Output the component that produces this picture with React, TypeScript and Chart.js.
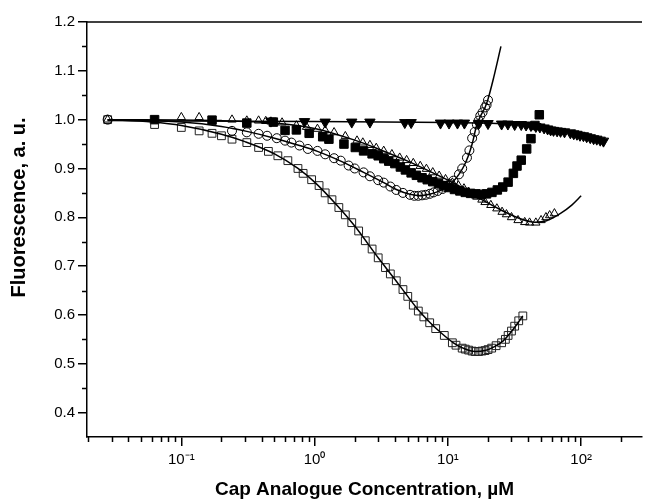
import React, { useEffect, useRef } from 'react';
import { Chart, registerables } from 'chart.js';

Chart.register(...registerables);

const FONT = '"Liberation Sans", Arial, Helvetica, sans-serif';

// Open circles (data + fit)
const circleX = [0.028, 0.24, 0.31, 0.38, 0.44, 0.52, 0.6, 0.67, 0.77, 0.89, 1.05, 1.2, 1.4, 1.57, 1.8, 2.0, 2.33, 2.6, 3.0, 3.3, 3.7, 4.1, 4.6, 5.2, 5.6, 6.0, 6.4, 6.8, 7.3, 7.8, 8.4, 9.1, 9.6, 10.3, 11, 12.1, 12.8, 13.9, 14.5, 15.2, 15.9, 16.5, 17, 17.5, 18.2, 19.0, 19.5, 20];
const circleY = [1.0, 0.977, 0.974, 0.971, 0.967, 0.962, 0.957, 0.953, 0.947, 0.94, 0.936, 0.929, 0.921, 0.916, 0.906, 0.9, 0.892, 0.884, 0.876, 0.871, 0.863, 0.856, 0.85, 0.846, 0.844, 0.844, 0.845, 0.846, 0.848, 0.851, 0.854, 0.858, 0.862, 0.868, 0.875, 0.888, 0.9, 0.922, 0.937, 0.962, 0.975, 0.99, 0.998, 1.008, 1.015, 1.025, 1.03, 1.04];
const circleFitX = [0.028, 0.1, 0.2, 0.31, 0.5, 0.77, 1.05, 1.57, 2.33, 3.3, 4.1, 5.2, 6.2, 7.3, 8.5, 9.6, 11, 12.1, 13.2, 14.2, 15.2, 16.5, 18, 19, 20, 22, 25];
const circleFitY = [1.0, 0.995, 0.986, 0.976, 0.962, 0.947, 0.935, 0.915, 0.892, 0.871, 0.857, 0.847, 0.844, 0.847, 0.853, 0.861, 0.874, 0.888, 0.905, 0.925, 0.95, 0.99, 1.013, 1.025, 1.042, 1.085, 1.15];

// Open squares (data + fit)
const squareX = [0.028, 0.063, 0.1, 0.136, 0.17, 0.2, 0.24, 0.31, 0.38, 0.45, 0.53, 0.63, 0.75, 0.82, 0.95, 1.08, 1.2, 1.35, 1.52, 1.7, 1.9, 2.14, 2.4, 2.7, 3.0, 3.4, 3.7, 4.1, 4.6, 5.0, 5.5, 6.0, 6.6, 7.3, 8.1, 9.4, 10.8, 11.5, 12.8, 13.5, 14.3, 15.2, 16, 17, 18, 19, 20, 21.3, 23, 25.3, 27, 28.3, 30, 31.7, 34, 36.5];
const squareY = [1.0, 0.99, 0.984, 0.977, 0.972, 0.967, 0.96, 0.953, 0.943, 0.935, 0.926, 0.916, 0.9, 0.89, 0.877, 0.865, 0.85, 0.836, 0.82, 0.805, 0.789, 0.772, 0.752, 0.735, 0.717, 0.697, 0.684, 0.67, 0.652, 0.638, 0.62, 0.608, 0.596, 0.584, 0.572, 0.558, 0.543, 0.538, 0.532, 0.53, 0.528, 0.526, 0.525, 0.525, 0.526, 0.527, 0.529, 0.532, 0.537, 0.543, 0.55, 0.558, 0.567, 0.577, 0.588, 0.598];
const squareFitX = [0.028, 0.06, 0.1, 0.2, 0.3, 0.5, 0.75, 1, 1.5, 2, 3, 4, 5, 6, 7.3, 9, 11, 13, 16, 19, 22, 26, 30, 36.5];
const squareFitY = [1.0, 0.995, 0.988, 0.97, 0.955, 0.93, 0.9, 0.872, 0.822, 0.782, 0.717, 0.673, 0.638, 0.61, 0.585, 0.562, 0.543, 0.532, 0.525, 0.527, 0.534, 0.547, 0.566, 0.598];

// Open triangles (data + fit)
const triX = [0.028, 0.1, 0.136, 0.24, 0.31, 0.38, 0.43, 0.47, 0.57, 0.73, 0.87, 1.05, 1.2, 1.4, 1.7, 2.08, 2.3, 2.6, 2.9, 3.3, 3.8, 4.35, 4.9, 5.5, 6.2, 6.9, 7.7, 8.6, 9.6, 10.8, 12, 13.2, 14.3, 15.2, 16.5, 18, 19, 21, 23.3, 25.5, 27.5, 30, 33.6, 37.7, 41, 45.7, 50, 54.4, 58, 63];
const triY = [1.0, 1.005, 1.005, 1.0, 0.998, 0.998, 0.997, 0.996, 0.994, 0.988, 0.985, 0.981, 0.978, 0.974, 0.966, 0.957, 0.953, 0.948, 0.942, 0.936, 0.929, 0.922, 0.917, 0.911, 0.905, 0.899, 0.892, 0.885, 0.878, 0.871, 0.865, 0.859, 0.852, 0.847, 0.842, 0.836, 0.831, 0.825, 0.818, 0.811, 0.806, 0.8, 0.794, 0.79, 0.789, 0.789, 0.794, 0.8, 0.804, 0.808];
const triFitX = [0.028, 0.2, 0.5, 1, 2, 3, 5, 8, 12, 18, 25, 35, 45, 55, 70, 85, 100];
const triFitY = [1.0, 0.998, 0.993, 0.982, 0.958, 0.94, 0.915, 0.889, 0.865, 0.836, 0.815, 0.797, 0.79, 0.793, 0.808, 0.825, 0.844];

// Filled squares
const fsqX = [0.063, 0.17, 0.31, 0.49, 0.6, 0.73, 0.91, 1.15, 1.28, 1.66, 2.02, 2.33, 2.7, 3.0, 3.3, 3.6, 4.0, 4.4, 4.8, 5.3, 5.8, 6.4, 7.0, 7.7, 8.5, 9.3, 10.2, 11.2, 12.3, 13.5, 14.8, 16.2, 17.8, 19.5, 21.4, 23.5, 25.8, 28.3, 31, 33, 35.5, 39, 42, 45, 48.5];
const fsqY = [1.0, 0.999, 0.993, 0.995, 0.978, 0.979, 0.972, 0.965, 0.96, 0.95, 0.943, 0.936, 0.93, 0.926, 0.92, 0.915, 0.91, 0.903, 0.897, 0.891, 0.886, 0.881, 0.877, 0.873, 0.869, 0.865, 0.861, 0.857, 0.854, 0.851, 0.849, 0.848, 0.847, 0.848, 0.851, 0.856, 0.862, 0.872, 0.89, 0.905, 0.917, 0.94, 0.961, 0.988, 1.01];

// Filled inverted triangles (data + fit)
const invX = [0.47, 0.84, 1.2, 1.9, 2.6, 4.75, 5.3, 8.8, 10.2, 11.8, 13.3, 17, 20, 25.3, 28.2, 31.7, 35.5, 38.6, 42, 45.7, 49, 52.7, 56, 59, 62, 66, 70, 75, 83, 88, 93, 98, 104, 110, 117, 124, 131, 139, 147];
const invY = [0.997, 0.996, 0.995, 0.995, 0.995, 0.994, 0.994, 0.993, 0.993, 0.993, 0.993, 0.992, 0.992, 0.991, 0.991, 0.99, 0.99, 0.989, 0.988, 0.986, 0.985, 0.983, 0.981, 0.979, 0.978, 0.977, 0.976, 0.975, 0.973, 0.971, 0.97, 0.968, 0.967, 0.965, 0.963, 0.961, 0.96, 0.958, 0.956];
const invFitX = [0.028, 1, 10, 30, 45, 70, 100, 147];
const invFitY = [0.998, 0.996, 0.994, 0.991, 0.987, 0.977, 0.968, 0.957];

// Axis ticks
const xTickValues = [0.1, 1, 10, 100];
const xTickLabels = ['10\u207B\u00B9', '10\u2070', '10\u00B9', '10\u00B2'];
const yTickValues = [0.4, 0.5, 0.6, 0.7, 0.8, 0.9, 1.0, 1.1, 1.2];
const yTickLabels = ['0.4', '0.5', '0.6', '0.7', '0.8', '0.9', '1.0', '1.1', '1.2'];
const yMinorValues = [0.45, 0.55, 0.65, 0.75, 0.85, 0.95, 1.05, 1.15];

const X_MIN = 0.0196;
const X_MAX = 286;
const Y_MIN = 0.35;
const Y_MAX = 1.2;

const xTitle = 'Cap Analogue Concentration, \u00B5M';
const yTitle = 'Fluorescence, a. u.';

const pts = (xs: number[], ys: number[]) => xs.map((x, i) => ({ x, y: ys[i] }));

const framePlugin = {
  id: 'frame',
  afterDraw(chart: any) {
    const { ctx, chartArea } = chart;
    const xs = chart.scales.x;
    const ys = chart.scales.y;
    ctx.save();
    ctx.strokeStyle = '#000';
    ctx.lineWidth = 1.5;
    // top border
    ctx.beginPath();
    ctx.moveTo(chartArea.left, chartArea.top);
    ctx.lineTo(chartArea.right, chartArea.top);
    ctx.stroke();
    // y minor ticks
    ctx.beginPath();
    yMinorValues.forEach((v) => {
      const py = Math.round(ys.getPixelForValue(v)) + 0.5;
      ctx.moveTo(chartArea.left - 5, py);
      ctx.lineTo(chartArea.left, py);
    });
    ctx.stroke();
    // x minor ticks
    ctx.beginPath();
    for (let d = -2; d <= 2; d++) {
      for (let m = 2; m <= 9; m++) {
        const v = m * Math.pow(10, d);
        if (v <= X_MIN || v >= X_MAX) continue;
        const px = Math.round(xs.getPixelForValue(v)) + 0.5;
        ctx.moveTo(px, chartArea.bottom);
        ctx.lineTo(px, chartArea.bottom + 5);
      }
    }
    ctx.stroke();
    // y title
    ctx.fillStyle = '#000';
    ctx.font = `bold 20px ${FONT}`;
    ctx.textAlign = 'center';
    ctx.textBaseline = 'alphabetic';
    ctx.translate(25, 207.5);
    ctx.rotate(-Math.PI / 2);
    ctx.fillText(yTitle, 0, 0);
    ctx.restore();
  },
};

export default function App() {
  const ref = useRef<HTMLCanvasElement | null>(null);

  useEffect(() => {
    if (!ref.current) return;
    const lineDs = (label: string, xs: number[], ys: number[]) => ({
      label,
      data: pts(xs, ys),
      showLine: true,
      borderColor: '#000',
      borderWidth: 1.5,
      pointRadius: 0,
      fill: false,
      cubicInterpolationMode: 'monotone' as const,
    });
    const chart = new Chart(ref.current, {
      type: 'scatter',
      data: {
        datasets: [
          lineDs('circle fit', circleFitX, circleFitY),
          lineDs('square fit', squareFitX, squareFitY),
          lineDs('triangle fit', triFitX, triFitY),
          lineDs('inverted triangle fit', invFitX, invFitY),
          {
            label: 'open circles',
            data: pts(circleX, circleY),
            pointStyle: 'circle',
            pointRadius: 4.5,
            borderColor: '#000',
            backgroundColor: 'transparent',
            pointBorderWidth: 1,
          },
          {
            label: 'open squares',
            data: pts(squareX, squareY),
            pointStyle: 'rect',
            pointRadius: 5.5,
            borderColor: '#222',
            backgroundColor: 'transparent',
            pointBorderWidth: 1,
          },
          {
            label: 'open triangles',
            data: pts(triX, triY),
            pointStyle: 'triangle',
            pointRadius: 4.8,
            borderColor: '#000',
            backgroundColor: 'transparent',
            pointBorderWidth: 1,
          },
          {
            label: 'filled squares',
            data: pts(fsqX, fsqY),
            pointStyle: 'rect',
            pointRadius: 6,
            borderColor: '#000',
            backgroundColor: '#000',
            pointBorderWidth: 1,
          },
          {
            label: 'filled inverted triangles',
            data: pts(invX, invY),
            pointStyle: 'triangle',
            rotation: 180,
            pointRadius: 6,
            borderColor: '#000',
            backgroundColor: '#000',
            pointBorderWidth: 1,
          } as any,
        ],
      },
      options: {
        animation: false,
        responsive: false,
        layout: { padding: { top: 22, right: 0, left: 0, bottom: 0 } },
        plugins: {
          legend: { display: false },
          tooltip: { enabled: false },
        },
        scales: {
          x: {
            type: 'logarithmic',
            min: X_MIN,
            max: X_MAX,
            afterBuildTicks: (scale: any) => {
              scale.ticks = xTickValues.map((v) => ({ value: v }));
            },
            afterFit: (scale: any) => {
              scale.height = 64;
            },
            ticks: {
              autoSkip: false,
              maxRotation: 0,
              padding: 5,
              color: '#000',
              font: { family: FONT, size: 15 },
              callback: (_v: any, i: number) => xTickLabels[i],
            },
            grid: {
              display: true,
              drawOnChartArea: false,
              drawTicks: true,
              tickLength: 9,
              color: '#000',
              lineWidth: 1.5,
            },
            border: { display: true, color: '#000', width: 1.5 },
            title: {
              display: true,
              text: xTitle,
              color: '#000',
              font: { family: FONT, size: 19, weight: 'bold' },
              padding: { top: 0, bottom: 0 },
            },
          },
          y: {
            type: 'linear',
            min: Y_MIN,
            max: Y_MAX,
            afterBuildTicks: (scale: any) => {
              scale.ticks = yTickValues.map((v) => ({ value: v }));
            },
            afterFit: (scale: any) => {
              scale.width = 87;
            },
            ticks: {
              autoSkip: false,
              padding: 3,
              color: '#000',
              font: { family: FONT, size: 15 },
              callback: (_v: any, i: number) => yTickLabels[i],
            },
            grid: {
              display: true,
              drawOnChartArea: false,
              drawTicks: true,
              tickLength: 9,
              color: '#000',
              lineWidth: 1.5,
            },
            border: { display: true, color: '#000', width: 1.5 },
          },
        },
      },
      plugins: [framePlugin],
    } as any);
    return () => chart.destroy();
  }, []);

  return (
    <div style={{ position: 'absolute', left: 0, top: 0, width: 649, height: 501, background: '#fff' }}>
      <canvas ref={ref} width={649} height={501} style={{ display: 'block' }} />
    </div>
  );
}
